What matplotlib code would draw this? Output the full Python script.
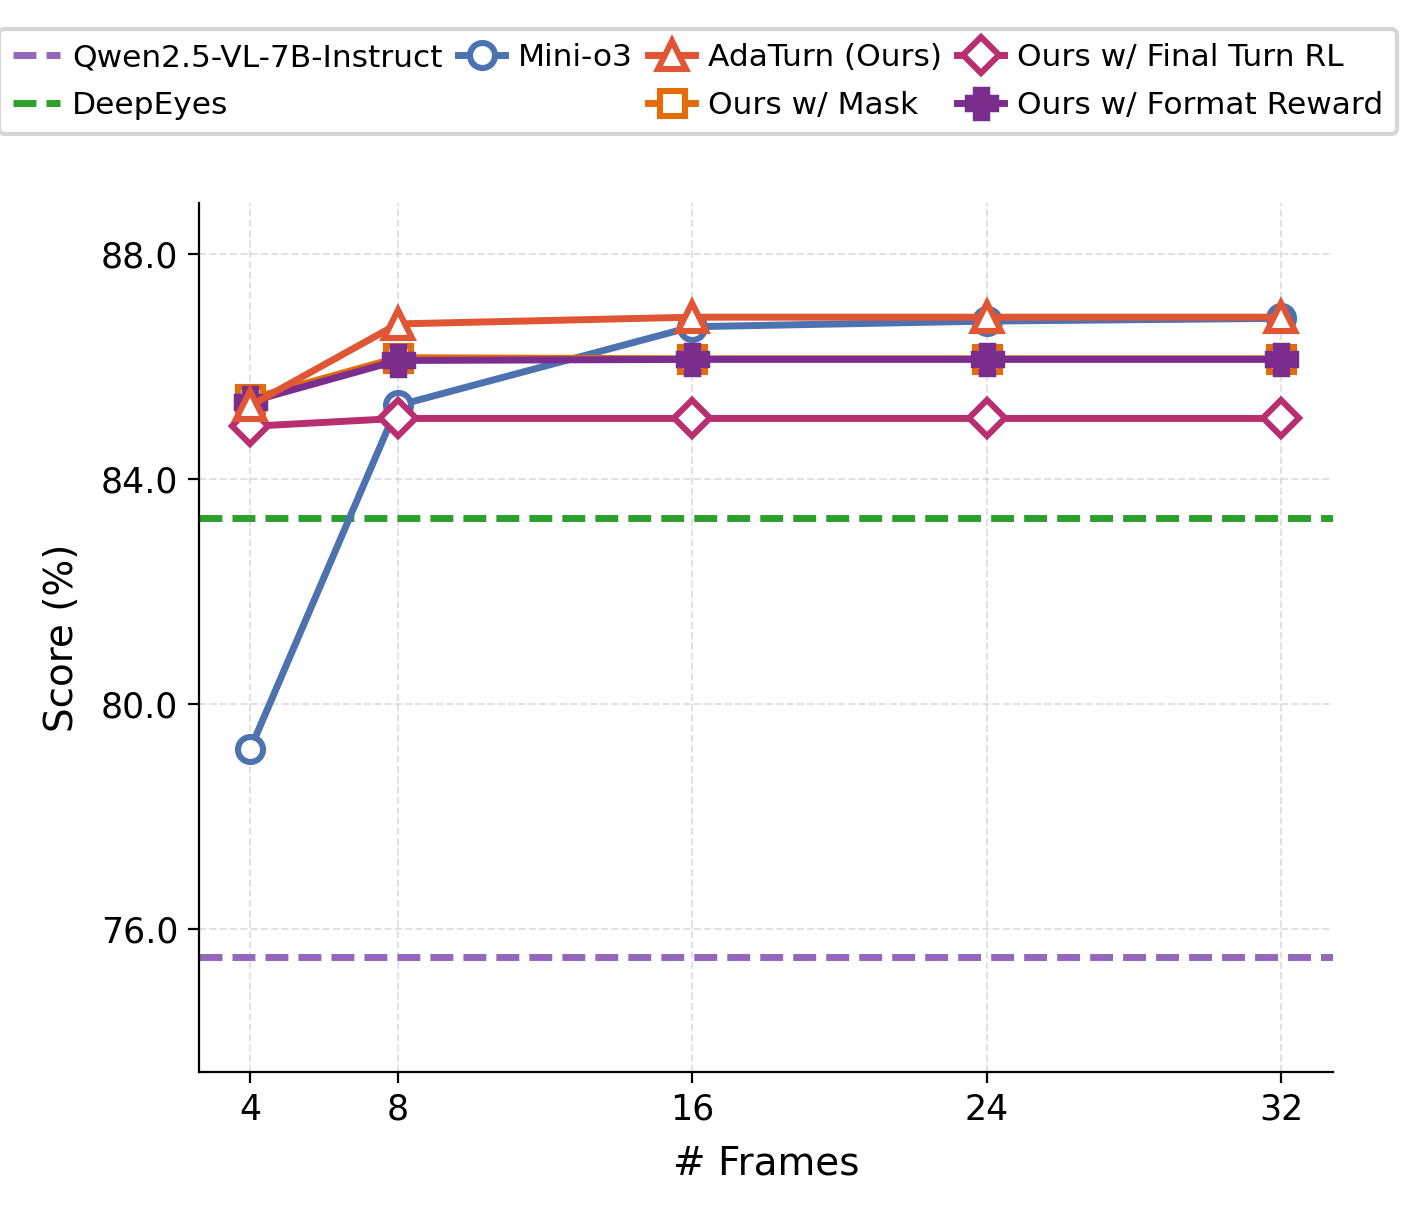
import matplotlib
matplotlib.use("Agg")
import matplotlib.pyplot as plt
from matplotlib.lines import Line2D

frames = [4, 8, 16, 24, 32]
qwen_score = 75.5
deepeyes_score = 83.3
mini_o3 = [79.2, 85.3, 86.7, 86.8, 86.85]
adaturn = [85.3, 86.75, 86.87, 86.87, 86.87]
ours_mask = [85.42, 86.15, 86.13, 86.13, 86.13]
ours_format = [85.37, 86.1, 86.12, 86.12, 86.12]
ours_final = [84.93, 85.07, 85.07, 85.07, 85.07]
yticks = [76.0, 80.0, 84.0, 88.0]

fig = plt.figure(figsize=(7.115, 6.085), dpi=200)
ax = fig.add_axes([0.1398, 0.1191, 0.9367 - 0.1398, 0.8332 - 0.1191])

lw = 2.5
ms = 9
mew = 2.2

h_qwen = ax.axhline(qwen_score, color="#9467bd", ls="--", lw=lw, dashes=(3.3, 1.45), label="Qwen2.5-VL-7B-Instruct")
h_deep = ax.axhline(deepeyes_score, color="#2ca02c", ls="--", lw=lw, dashes=(3.3, 1.45), label="DeepEyes")

h_mini, = ax.plot(frames, mini_o3, color="#4c72b0", lw=lw, marker="o", ms=ms, mfc="white", mec="#4c72b0", mew=mew, label="Mini-o3", zorder=3)
h_ada, = ax.plot(frames, adaturn, color="#e05533", lw=lw, marker="^", ms=ms + 1, mfc="white", mec="#e05533", mew=mew, label="AdaTurn (Ours)", zorder=4)
h_mask, = ax.plot(frames, ours_mask, color="#e36c0a", lw=lw, marker="s", ms=ms, mfc="white", mec="#e36c0a", mew=mew, label="Ours w/ Mask", zorder=3)
h_final, = ax.plot(frames, ours_final, color="#b82e6e", lw=lw, marker="D", ms=ms, mfc="white", mec="#b82e6e", mew=mew, label="Ours w/ Final Turn RL", zorder=3)
h_fmt, = ax.plot(frames, ours_format, color="#7b2d8e", lw=lw, marker="P", ms=ms, mfc="white", mec="#7b2d8e", mew=mew + 1.2, label="Ours w/ Format Reward", zorder=3.5)

ax.set_xlim(2.6, 33.4)
ax.set_ylim(73.45, 88.9)
ax.set_xticks(frames)
ax.set_yticks(yticks)
ax.set_yticklabels([f"{v:.1f}" for v in yticks])
ax.tick_params(labelsize=12.5, length=4)
ax.set_xlabel("# Frames", fontsize=14, labelpad=6.5)
ax.set_ylabel("Score (%)", fontsize=14, labelpad=7)
ax.grid(True, ls="--", color="#cccccc", alpha=0.6, lw=0.7)
ax.spines["top"].set_visible(False)
ax.spines["right"].set_visible(False)

blank = Line2D([], [], color="none")
handles = [h_qwen, h_deep, h_mini, blank, h_ada, h_mask, h_final, h_fmt]
labels = ["Qwen2.5-VL-7B-Instruct", "DeepEyes", "Mini-o3", "", "AdaTurn (Ours)", "Ours w/ Mask",
          "Ours w/ Final Turn RL", "Ours w/ Format Reward"]
leg = fig.legend(handles, labels, loc="upper center", bbox_to_anchor=(0.4905, 0.976), ncol=4,
                 fontsize=11.25, frameon=True, handlelength=1.5, columnspacing=0.5, handletextpad=0.4,
                 borderpad=0.45, labelspacing=0.6, borderaxespad=0)
leg.get_frame().set_linewidth(1.5)
leg.get_frame().set_edgecolor("#cccccc")

fig.savefig("out.png", dpi=200)
